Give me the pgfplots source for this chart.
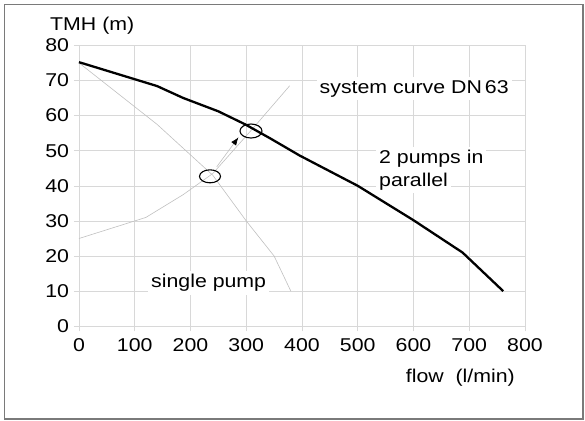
\documentclass[border=0pt]{standalone}
\usepackage{pgfplots}
\pgfplotsset{compat=1.18}
\usepackage{fontspec}
\setmainfont{Liberation Sans}[FakeStretch=1.15]
\usetikzlibrary{arrows.meta}
\definecolor{gridc}{HTML}{D8D8D8}
\definecolor{thinc}{HTML}{C0C0C0}
\definecolor{framec}{HTML}{7A7A7A}
\begin{document}
\begin{tikzpicture}
\begin{axis}[
  scale only axis,
  width=446bp, height=281bp,
  xmin=0, xmax=800, ymin=0, ymax=80,
  xtick distance=100, ytick distance=10,
  grid=major,
  grid style={gridc, line width=0.6bp},
  axis line style={gridc, line width=0.6bp},
  tick style={gridc, line width=0.6bp},
  major tick length=5bp,
  tick align=outside,
  xtick pos=left, ytick pos=left,
  /pgf/number format/assume math mode=true,
  tick label style={font=\fontsize{18.6}{22}\selectfont},
  xticklabel style={yshift=-4bp},
  yticklabel style={xshift=-1.5bp},
  clip=false,
]
% single pump
\addplot[thinc, line width=0.6bp] coordinates {
  (0,75) (140,57.5) (240,43) (300,30) (350,20) (380,10)};
% system curve DN 63
\addplot[thinc, line width=0.6bp] coordinates {
  (0,25) (120,31) (187,37.5) (240,43.5) (310,56) (378,68.5)};
% 2 pumps in parallel
\addplot[black, line width=2.3bp] coordinates {
  (0,75.2) (140,68.4) (187,65) (250,61.2) (298,57.5) (343,53.5)
  (396,48.6) (500,40) (600,30.2) (688,21) (761,10)};
% arrow between the operating points
\addplot[thinc, line width=0.6bp, -{Latex[black,length=8bp,width=6bp]}] coordinates {
  (247,45.4) (286,53.8)};
\draw[black, line width=1.1bp] (axis cs:235,42.7) ellipse [x radius=10.5bp, y radius=6.5bp];
\draw[black, line width=1.1bp] (axis cs:308.5,55.6) ellipse [x radius=11bp, y radius=7bp];
\node[anchor=base west, fill=white, inner sep=3bp, font=\fontsize{18.6}{22}\selectfont]
  at (axis cs:426,66.3) {system curve DN\,63};
\node[anchor=base west, fill=white, inner sep=3bp, font=\fontsize{18.6}{22}\selectfont]
  at (axis cs:532.7,46.4) {2 pumps in};
\node[anchor=base west, fill=white, inner sep=3bp, font=\fontsize{18.6}{22}\selectfont]
  at (axis cs:532.7,39.8) {parallel};
\node[anchor=base west, fill=white, inner sep=3bp, font=\fontsize{18.6}{22}\selectfont]
  at (axis cs:123.8,11.0) {single pump};
\node[anchor=base west, inner sep=0pt, font=\fontsize{18.6}{22}\selectfont]
  at (axis cs:-52,84.3) {TMH (m)};
\node[anchor=base east, inner sep=0pt, font=\fontsize{18.6}{22}\selectfont]
  at (axis cs:782,-15.9) {flow\ \ (l/min)};
\draw[framec, line width=1.3bp] (axis cs:-133.6,-26.4) rectangle (axis cs:904,91.6);
\path (axis cs:-141.7,-26.8) rectangle (axis cs:907.6,92.9);
\end{axis}
\end{tikzpicture}
\end{document}
